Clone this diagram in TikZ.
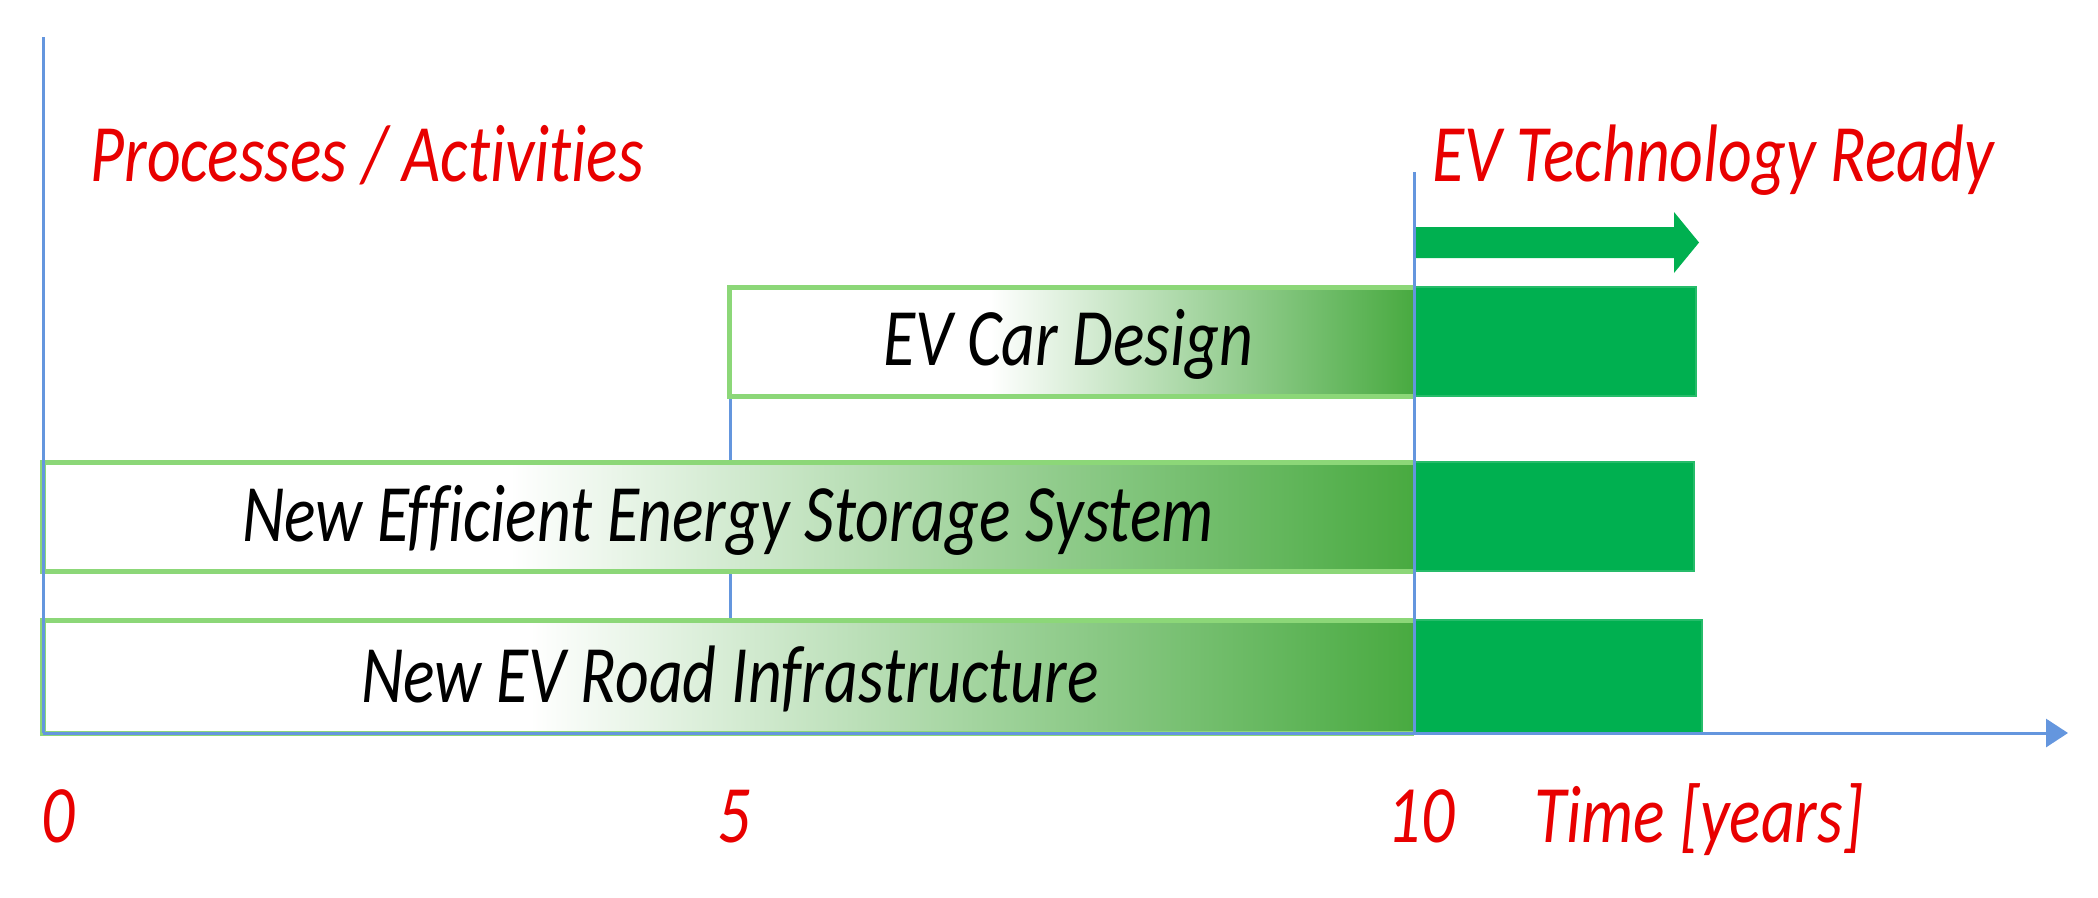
\documentclass[tikz,border=0pt]{standalone}
\usepackage{fontspec}
\setmainfont{Carlito}[Ligatures=NoCommon]
\usetikzlibrary{arrows.meta}
\definecolor{axisblue}{RGB}{100,150,222}
\definecolor{solidgreen}{RGB}{0,176,80}
\definecolor{gradgreen}{RGB}{72,170,64}
\definecolor{edgegreen}{RGB}{140,215,120}
\definecolor{labelred}{RGB}{232,0,0}
\begin{document}
\begin{tikzpicture}[x=0.01cm,y=-0.01cm,
  lbl/.style={inner sep=0pt, anchor=base west, yscale=1.24, transform shape, font=\fontsize{18.7}{22}\selectfont\itshape},
  redlbl/.style={lbl, text=labelred},
  blklbl/.style={lbl, anchor=base, text=black},
  axisline/.style={draw=axisblue, line width=0.03cm},
  gradbox/.style={draw=edgegreen, line width=0.05cm},
  solidbox/.style={fill=solidgreen, draw=solidgreen!85!white, line width=0.02cm}]
\useasboundingbox (0,0) rectangle (2098,897);
% named coordinates
\coordinate (o) at (43,733);
\coordinate (ytop) at (43,37);
\coordinate (xend) at (2068,733);
\coordinate (f5top) at (730,287);
\coordinate (f5bot) at (730,733);
\coordinate (t10top) at (1414,172);
\coordinate (t10bot) at (1414,733);
% line at year 5 (behind boxes)
\draw[axisline] (f5top) -- (f5bot);
% EV Car Design box
\fill[white] (729,287) rectangle (1414,396);
\fill[left color=white, right color=gradgreen] (990,287) rectangle (1414,396);
\draw[gradbox] (1414,287) -- (729,287) -- (729,396) -- (1414,396);
\fill[solidbox] (1414,287) rectangle (1696,396);
% Storage box
\fill[white] (43,462) rectangle (1414,571);
\fill[left color=white, right color=gradgreen] (510,462) rectangle (1414,571);
\draw[gradbox] (1414,462) -- (43,462) -- (43,571) -- (1414,571);
\fill[solidbox] (1414,462) rectangle (1694,571);
% Road box
\fill[white] (43,620) rectangle (1414,733);
\fill[left color=white, right color=gradgreen] (530,620) rectangle (1414,733);
\draw[gradbox] (1414,620) -- (43,620) -- (43,733) -- (1414,733);
\fill[solidbox] (1414,620) rectangle (1702,733);
% green block arrow
\fill[solidgreen] (1414,227) -- (1674,227) -- (1674,212) -- (1699,242.5) -- (1674,273) -- (1674,258) -- (1414,258) -- cycle;
% axes
\draw[axisline] (ytop) -- (o);
\draw[axisline] (t10top) -- (t10bot);
\draw[axisline, -{Triangle[length=0.22cm, width=0.28cm]}] (o) -- (xend);
% labels
\node[redlbl] (proc) at (90,181) {Processes / Activities};
\node[redlbl] (ready) at (1432,181) {EV Technology Ready};
\node[blklbl] (car) at (1068,365) {EV Car Design};
\node[blklbl] (stor) at (728,541) {New Efficient Energy Storage System};
\node[blklbl] (road) at (730,702) {New EV Road Infrastructure};
\node[redlbl] (n0) at (41,842) {0};
\node[redlbl] (n5) at (717,842) {5};
\node[redlbl] (n10) at (1387,842) {10};
\node[redlbl] (time) at (1534,842) {Time [years]};
\end{tikzpicture}
\end{document}
